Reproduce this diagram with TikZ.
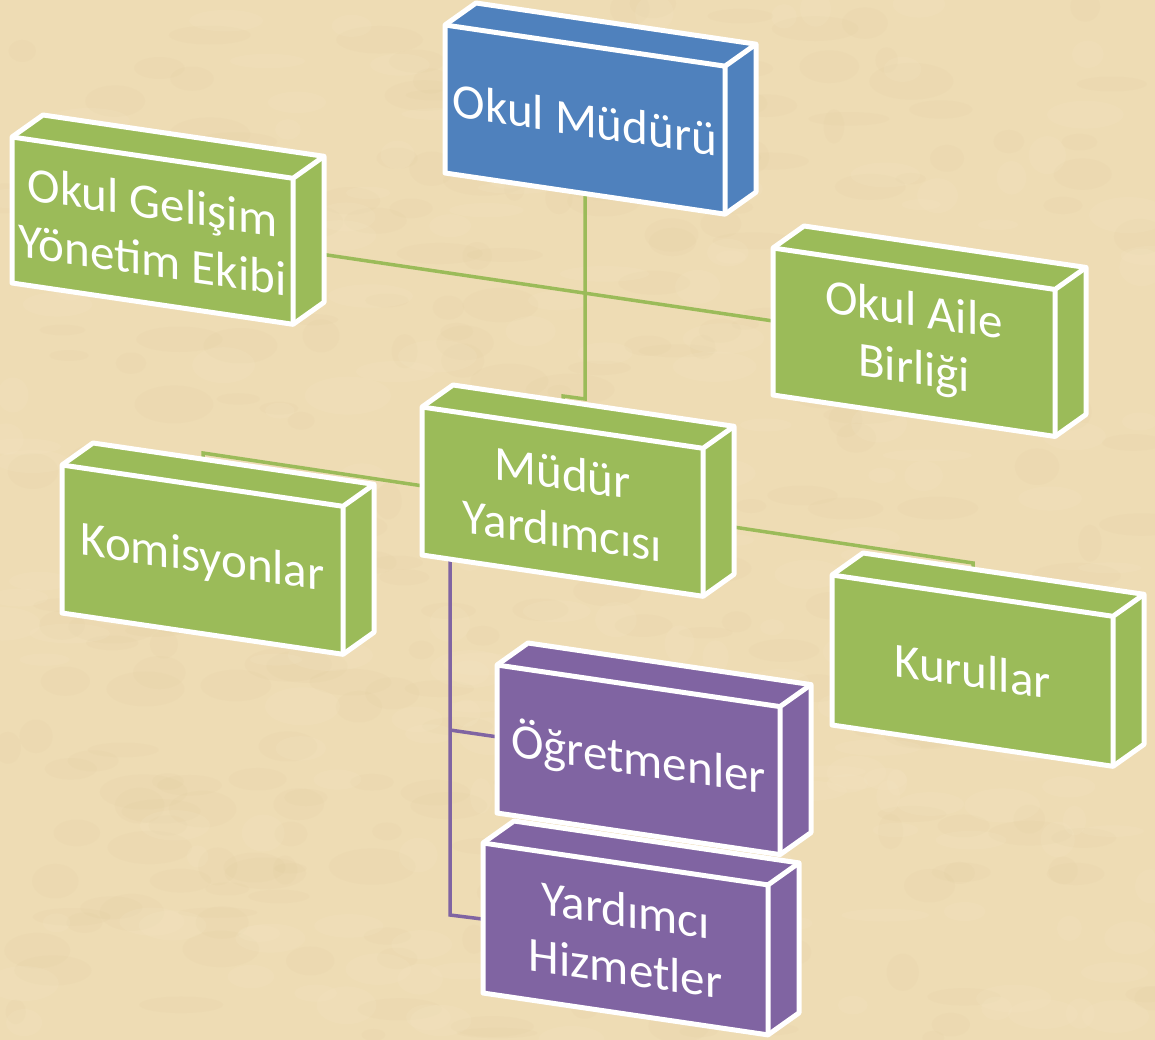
\documentclass[tikz,border=0pt]{standalone}
\usepackage{fontspec}
\setmainfont{Carlito}
\definecolor{bgc}{HTML}{EEDCB4}
\definecolor{bgdark}{HTML}{D8BE8E}
\definecolor{bglight}{HTML}{F7EACB}
\definecolor{bluec}{HTML}{4F81BD}
\definecolor{greenc}{HTML}{9BBB59}
\definecolor{purplec}{HTML}{8064A2}
\def\slp{0.147}
\def\ddx{31}
\def\ddy{-22}
\newcommand\cubebox[7]{%
  \pgfmathsetmacro\xa{#2}\pgfmathsetmacro\ya{#3}%
  \pgfmathsetmacro\xb{#2+#4}\pgfmathsetmacro\yb{#3+\slp*#4}%
  \pgfmathsetmacro\yc{#3+\slp*#4+#5}\pgfmathsetmacro\yd{#3+#5}%
  \pgfmathsetmacro\xe{#2+\ddx}\pgfmathsetmacro\ye{#3+\ddy}%
  \pgfmathsetmacro\xf{#2+#4+\ddx}\pgfmathsetmacro\yf{#3+\slp*#4+\ddy}%
  \pgfmathsetmacro\yg{#3+\slp*#4+#5+\ddy}%
  \pgfmathsetmacro\xm{#2+#4/2}\pgfmathsetmacro\ym{#3+\slp*#4/2+#5/2}%
  \draw[cubeface,fill=#6] (\xa,\ya) -- (\xe,\ye) -- (\xf,\yf) -- (\xf,\yg) -- (\xb,\yc) -- (\xa,\yd) -- cycle;
  \draw[cubeface] (\xa,\ya) -- (\xb,\yb) -- (\xf,\yf) (\xb,\yb) -- (\xb,\yc);
  \node[boxtext] (#1) at (\xm,\ym) {#7};
}
\begin{document}
\begin{tikzpicture}[x=1pt,y=-1pt,
  cubeface/.style={draw=white,line width=5pt,line join=round},
  boxtext/.style={text=white,font=\fontsize{49}{58}\selectfont,align=center,inner sep=0pt,yslant=-0.147},
  gline/.style={draw=greenc,line width=3.5pt},
  pline/.style={draw=purplec,line width=3.5pt}]
\useasboundingbox (0,0) rectangle (1155,1040);
\fill[bgc] (0,0) rectangle (1155,1040);
% subtle parchment texture
\pgfmathsetseed{7}
\begin{scope}
\clip (0,0) rectangle (1155,1040);
\foreach \i in {1,...,300}{
  \pgfmathsetmacro\px{rnd*1155}\pgfmathsetmacro\py{rnd*1040}
  \pgfmathsetmacro\rx{10+rnd*35}\pgfmathsetmacro\ry{5+rnd*14}
  \fill[bgdark,opacity=0.07] (\px,\py) ellipse [x radius=\rx, y radius=\ry];
}
\foreach \i in {1,...,220}{
  \pgfmathsetmacro\px{rnd*1155}\pgfmathsetmacro\py{rnd*1040}
  \pgfmathsetmacro\rx{10+rnd*35}\pgfmathsetmacro\ry{5+rnd*14}
  \fill[bglight,opacity=0.14] (\px,\py) ellipse [x radius=\rx, y radius=\ry];
}
\end{scope}
% connector points
\coordinate (vA) at (585,190);
\coordinate (vB) at (585,399);
\coordinate (vC) at (563,396);
\coordinate (vD) at (563,430);
\coordinate (hA) at (300,251);
\coordinate (hB) at (780,322);
\coordinate (kA) at (430,487);
\coordinate (kB) at (203,453);
\coordinate (kC) at (203,480);
\coordinate (rA) at (720,525);
\coordinate (rB) at (973,563);
\coordinate (rC) at (973,590);
\coordinate (pA) at (450,550);
\coordinate (pB) at (450,915);
\coordinate (pC) at (450,730);
\coordinate (pD) at (505,738);
\coordinate (pE) at (490,920);
% connectors
\draw[gline] (vA) -- (vB) -- (vC) -- (vD);
\draw[gline] (hA) -- (hB);
\draw[gline] (kA) -- (kB) -- (kC);
\draw[gline] (rA) -- (rB) -- (rC);
\draw[pline] (pA) -- (pB) -- (pE);
\draw[pline] (pC) -- (pD);
% boxes
\cubebox{omud}{445}{25}{280}{148}{bluec}{Okul Müdürü}
\cubebox{ogye}{12}{137}{281}{146}{greenc}{Okul Gelişim\\Yönetim Ekibi}
\cubebox{oab}{773}{248}{282}{147}{greenc}{Okul Aile\\Birliği}
\cubebox{myrd}{422}{407}{281}{148}{greenc}{Müdür\\Yardımcısı}
\cubebox{kom}{62}{465}{281}{148}{greenc}{Komisyonlar}
\cubebox{kur}{832}{575}{281}{150}{greenc}{Kurullar}
\cubebox{ogr}{497}{665}{283}{148}{purplec}{Öğretmenler}
\cubebox{yh}{483}{843}{285}{150}{purplec}{Yardımcı\\Hizmetler}
\end{tikzpicture}
\end{document}
